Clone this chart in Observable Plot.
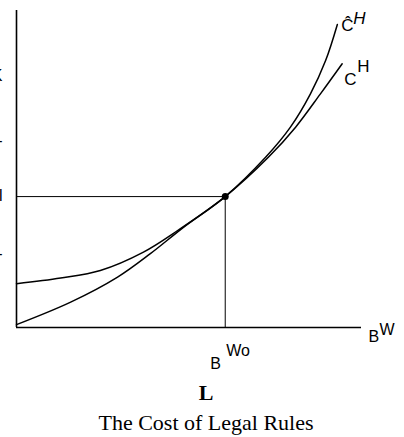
<!DOCTYPE html>
<html>
<head>
<meta charset="utf-8">
<script src="https://cdn.jsdelivr.net/npm/d3@7"></script>
<script src="https://cdn.jsdelivr.net/npm/@observablehq/plot@0.6"></script>
<style>
  body { margin: 0; background: #fff; }
  #wrap { width: 404px; }
  .cap { width: 404px; box-sizing: border-box; padding-left: 8px; text-align: center;
         font-family: "Liberation Serif", "Times New Roman", serif; font-size: 22px; color: #000; }
  #L { font-weight: bold; line-height: 26px; margin-top: 7.6px; }
  #title { line-height: 26px; margin-top: 4px; }
</style>
</head>
<body>
<div id="wrap"></div>
<script>
// ---- data ----
const hatX = [0, 15.7, 29.3, 38.8, 48.4, 60.5, 72.2, 79.4, 85.2, 89.6, 93.0];
const hatY = [0.9, 8.0, 15.9, 23.3, 31.6, 41.3, 53.7, 63.2, 73.7, 84.2, 95.6];
const cX = [0, 12.8, 24.3, 36.8, 46.7, 60.5, 73.0, 80.9, 88.1, 94.4];
const cY = [13.8, 15.6, 18.0, 23.8, 30.6, 41.3, 53.7, 63.2, 73.7, 83.2];
const eqX = 60.5;   // B^Wo
const eqY = 41.3;
const xMax = 100, yMax = 100;
const leftLabels = ["K", "-", "l", "-"];
const leftLabelY = [79.5, 59.0, 41.6, 23.3];
const titleText = "The Cost of Legal Rules";
const panelText = "L";

const hat = hatX.map((x, i) => ({x, y: hatY[i]}));
const c = cX.map((x, i) => ({x, y: cY[i]}));
const hatEnd = hat[hat.length - 1];
const cEnd = c[c.length - 1];
const left = leftLabels.map((t, i) => ({t, y: leftLabelY[i]}));

const sans = "Liberation Sans, Arial, sans-serif";

const chart = Plot.plot({
  width: 404, height: 372,
  marginLeft: 16, marginRight: 43, marginTop: 10, marginBottom: 45,
  x: {domain: [0, xMax], axis: null},
  y: {domain: [0, yMax], axis: null},
  style: {fontFamily: sans, fontSize: "16px", overflow: "visible", color: "black"},
  marks: [
    Plot.ruleX([0], {y1: 0, y2: yMax, stroke: "black", strokeWidth: 1.6}),
    Plot.ruleY([0], {x1: 0, x2: xMax, stroke: "black", strokeWidth: 1.6}),
    Plot.ruleY([eqY], {x1: 0, x2: eqX, stroke: "black", strokeWidth: 1}),
    Plot.ruleX([eqX], {y1: 0, y2: eqY, stroke: "black", strokeWidth: 1}),
    Plot.line(hat, {x: "x", y: "y", curve: "catmull-rom", stroke: "black", strokeWidth: 1.5}),
    Plot.line(c, {x: "x", y: "y", curve: "catmull-rom", stroke: "black", strokeWidth: 1.5}),
    Plot.dot([{x: eqX, y: eqY}], {x: "x", y: "y", r: 3.5, fill: "black", stroke: "none"}),
    // curve labels
    Plot.text([hatEnd], {x: "x", y: "y", text: () => "Ĉ", dx: 4, dy: 7, textAnchor: "start", lineAnchor: "bottom", fontSize: 17}),
    Plot.text([hatEnd], {x: "x", y: "y", text: () => "H", dx: 16, dy: 0, textAnchor: "start", lineAnchor: "bottom", fontSize: 17, fontStyle: "italic"}),
    Plot.text([cEnd], {x: "x", y: "y", text: () => "C", dx: 2, dy: 21, textAnchor: "start", lineAnchor: "bottom", fontSize: 17}),
    Plot.text([cEnd], {x: "x", y: "y", text: () => "H", dx: 15, dy: 8, textAnchor: "start", lineAnchor: "bottom", fontSize: 17}),
    // axis labels
    Plot.text([{x: xMax, y: 0}], {x: "x", y: "y", text: () => "B", dx: 7, dy: 14, textAnchor: "start", lineAnchor: "bottom", fontSize: 16}),
    Plot.text([{x: xMax, y: 0}], {x: "x", y: "y", text: () => "W", dx: 18, dy: 7, textAnchor: "start", lineAnchor: "bottom", fontSize: 16}),
    Plot.text([{x: eqX, y: 0}], {x: "x", y: "y", text: () => "B", dx: -15, dy: 41, textAnchor: "start", lineAnchor: "bottom", fontSize: 16}),
    Plot.text([{x: eqX, y: 0}], {x: "x", y: "y", text: () => "Wo", dx: 1, dy: 28, textAnchor: "start", lineAnchor: "bottom", fontSize: 16}),
    // clipped labels at the far left edge
    Plot.text(left, {x: () => 0, y: "y", text: "t", dx: -14, textAnchor: "end", lineAnchor: "middle", fontSize: 16})
  ]
});

const wrap = document.getElementById("wrap");
wrap.appendChild(chart);
const L = document.createElement("div");
L.id = "L"; L.className = "cap"; L.textContent = panelText;
const T = document.createElement("div");
T.id = "title"; T.className = "cap"; T.textContent = titleText;
wrap.appendChild(L);
wrap.appendChild(T);
</script>
</body>
</html>
